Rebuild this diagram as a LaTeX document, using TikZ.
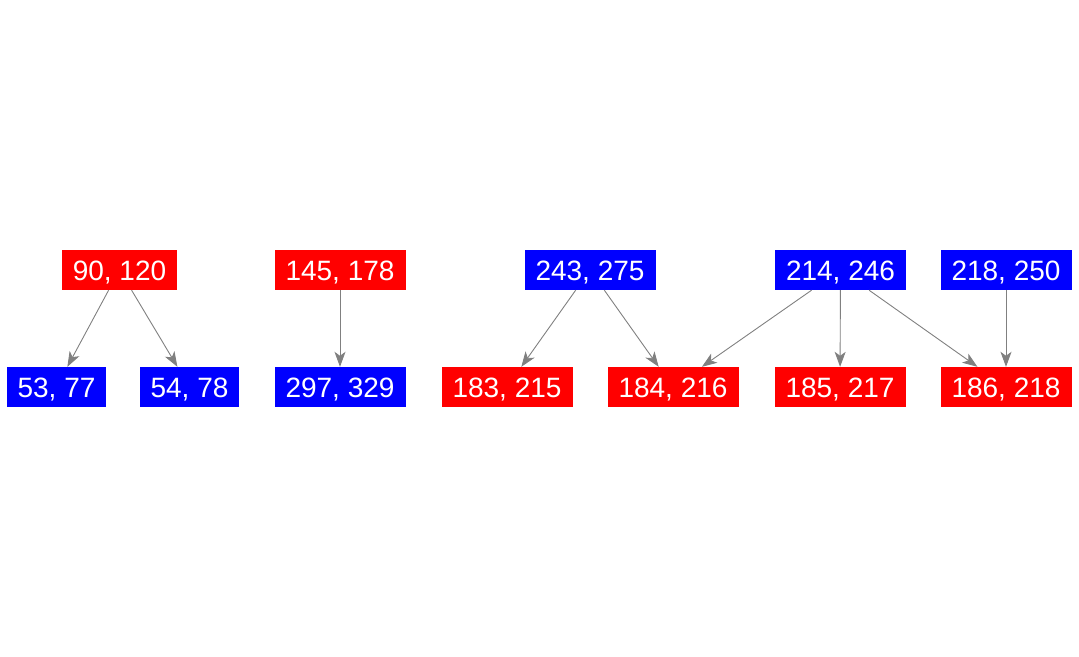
\documentclass[tikz,border=0pt]{standalone}
\usepackage{fontspec}
\setmainfont{Liberation Sans}
\usetikzlibrary{arrows.meta}

\begin{document}
\begin{tikzpicture}[x=1pt,y=-1pt,
    redbox/.style={fill={rgb,255:red,255;green,0;blue,0}, text=white, font=\fontsize{28}{30}\selectfont,
      inner xsep=11pt, inner ysep=0pt, text height=20pt, text depth=0pt, minimum height=40pt},
    bluebox/.style={redbox, fill={rgb,255:red,0;green,0;blue,255}},
    link/.style={draw=gray, line width=0.9pt, -{Stealth[length=15pt,width=11pt,inset=4pt]}}]
  \useasboundingbox (0,0) rectangle (1079,656);

  % Top row
  \node[redbox] (a) at (119.5,270) {90, 120};
  \node[redbox] (b) at (340,270) {145, 178};
  \node[bluebox] (c) at (590,270) {243, 275};
  \node[bluebox] (d) at (840.5,270) {214, 246};
  \node[bluebox] (e) at (1006,270) {218, 250};

  % Bottom row
  \node[bluebox] (a1) at (56.5,387) {53, 77};
  \node[bluebox] (a2) at (189.5,387) {54, 78};
  \node[bluebox] (b1) at (340,387) {297, 329};
  \node[redbox] (c1) at (507,387) {183, 215};
  \node[redbox] (c2) at (673,387) {184, 216};
  \node[redbox] (d1) at (840,387) {185, 217};
  \node[redbox] (e1) at (1006,387) {186, 218};

  % Edges
  \draw[link] (a) -- (a1);
  \draw[link] (a) -- (a2);
  \draw[link] (b) -- (b1);
  \draw[link] (c) -- (c1);
  \draw[link] (c) -- (c2);
  \draw[link] (d) -- (c2);
  \draw[link] (d) -- (d1);
  \draw[link] (d) -- (e1);
  \draw[link] (e) -- (e1);
\end{tikzpicture}
\end{document}
